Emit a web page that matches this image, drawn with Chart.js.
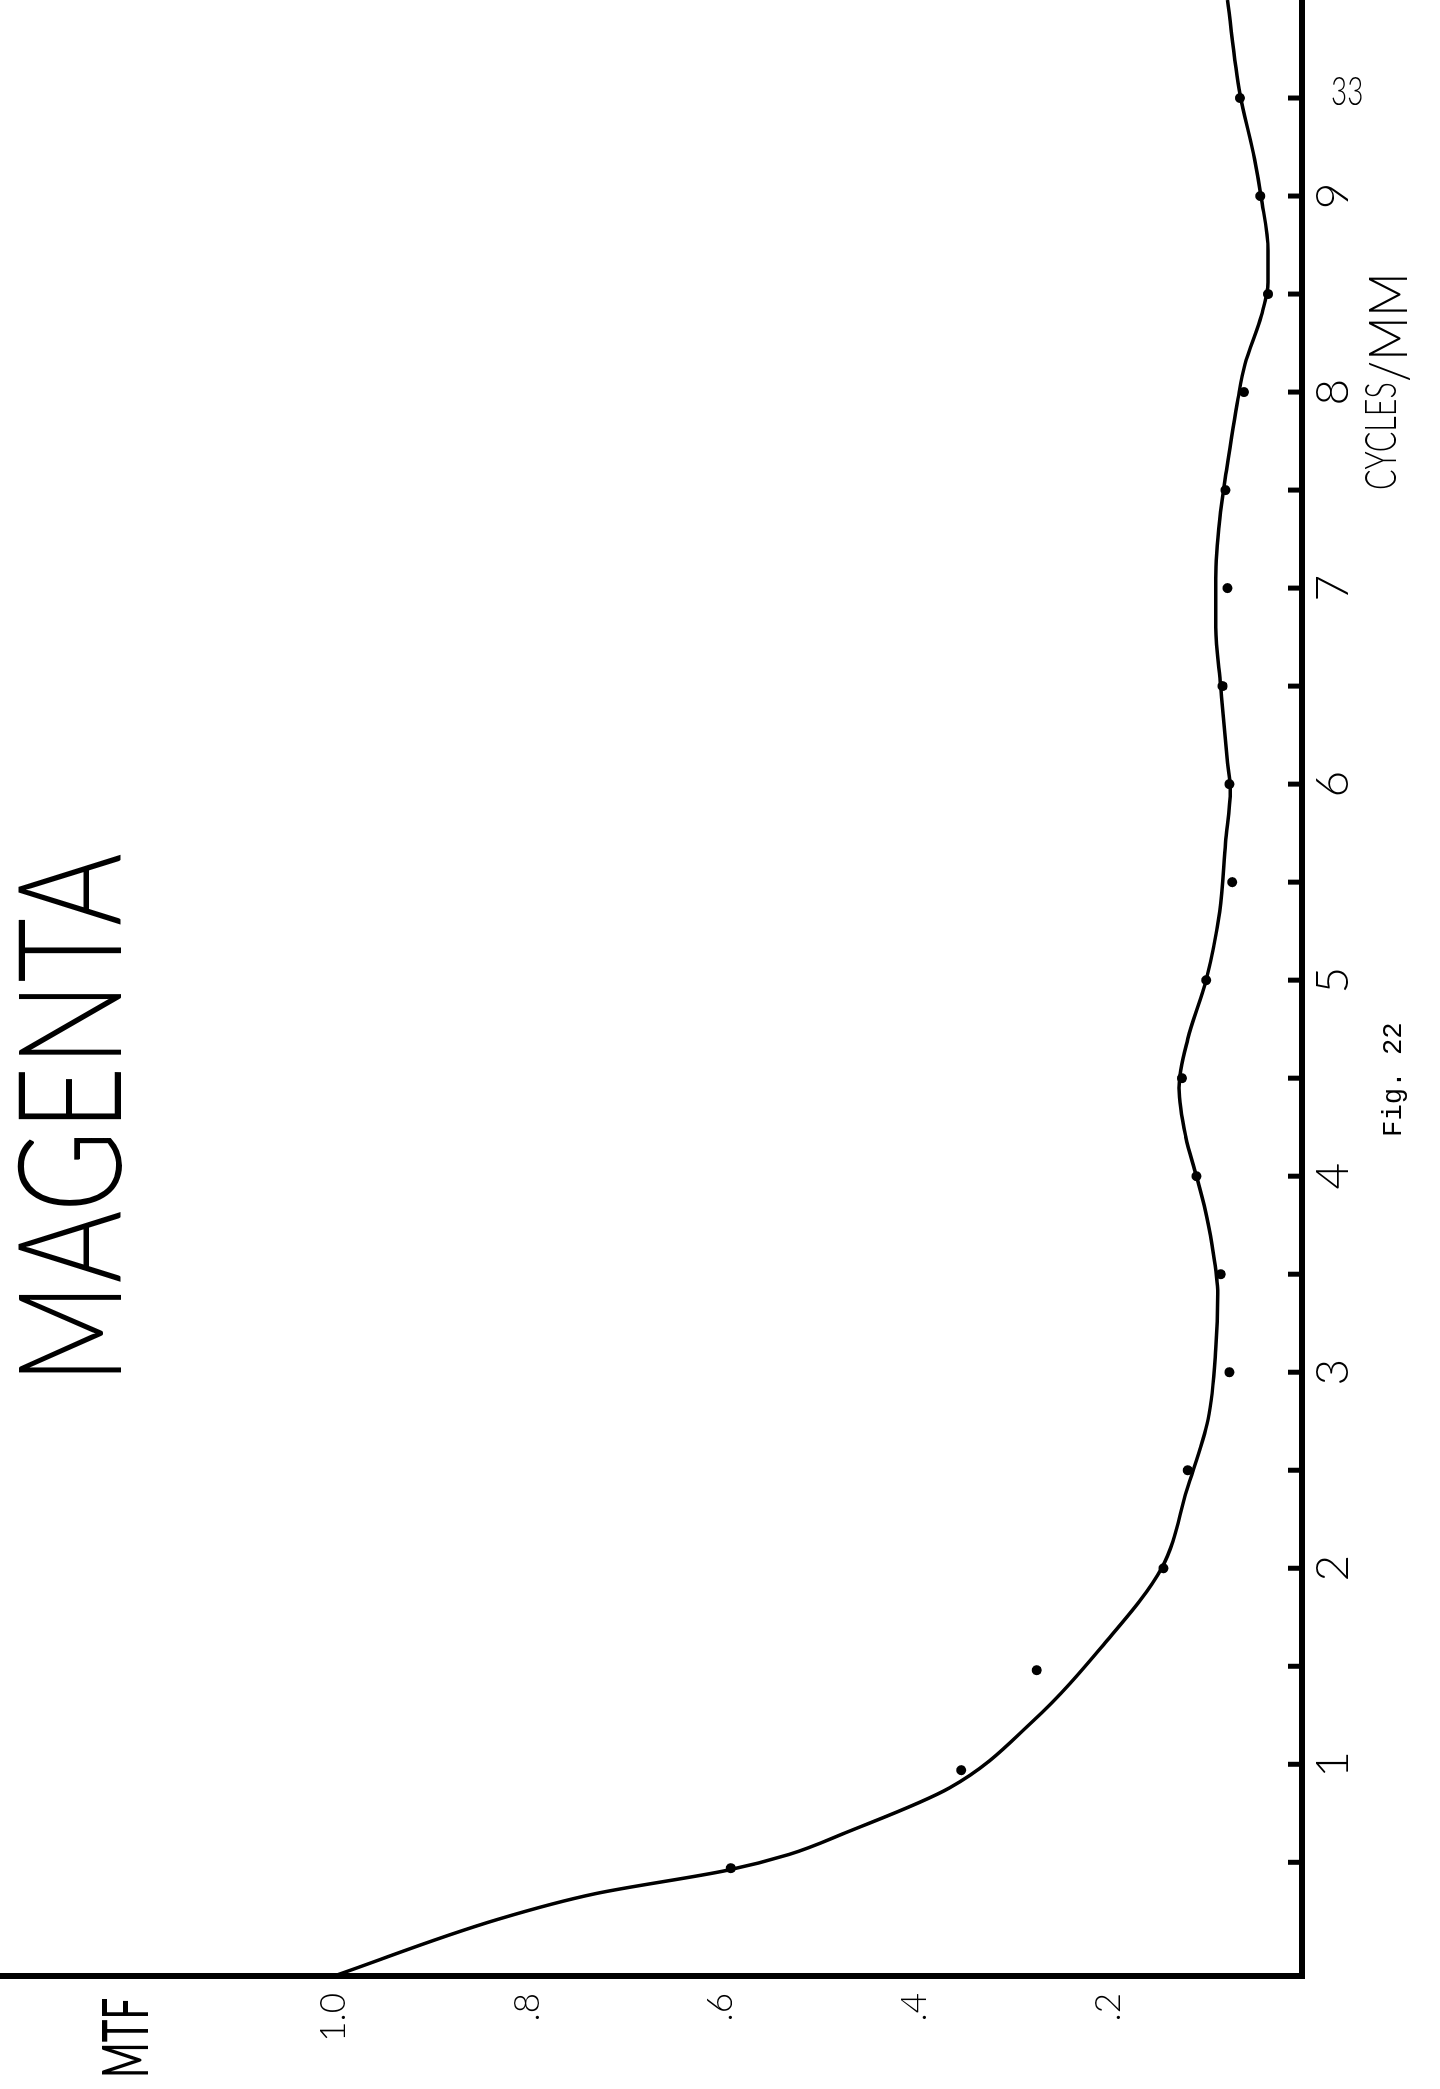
<!DOCTYPE html>
<html>
<head>
<meta charset="utf-8">
<title>MAGENTA MTF</title>
<script src="https://cdn.jsdelivr.net/npm/chart.js@4.4.1/dist/chart.umd.min.js"></script>
<style>
html, body { margin: 0; padding: 0; background: #fff; width: 1440px; height: 2089px; overflow: hidden; }
/* the sheet is drawn landscape and turned a quarter left, like the scan */
#page { position: absolute; left: 0; top: 0; width: 2089px; height: 1440px;
        transform-origin: 0 0; transform: translateY(2089px) rotate(-90deg); }
#page canvas { position: absolute; left: 0; top: 0; }
.lbl { position: absolute; color: #000; white-space: nowrap; line-height: 1; transform-origin: 0 0; }
.hand { font-family: Lato, "Open Sans", sans-serif; font-weight: 300; }
</style>
</head>
<body>
<div id="page">
  <canvas id="mtfChart" width="2089" height="1440"></canvas>
  <div class="lbl hand" id="title" style="left:705px; top:-7px; font-size:145px;">MAGENTA</div>
  <div class="lbl hand" id="yName" style="left:11px; top:92px; font-size:63px; font-weight:400;">MTF</div>
  <div class="lbl hand" id="xName1" style="left:1599px; top:1357px; font-size:44px;">CYCLES</div>
  <div class="lbl hand" id="xName2" style="left:1707px; top:1360px; font-size:54px;">/MM</div>
  <div class="lbl" id="fig" style="left:952px; top:1380px; font-size:28px; font-family:'Liberation Mono', 'DejaVu Sans Mono', monospace;">Fig. 22</div>
</div>
<!-- page number sits upright on the scan -->
<div class="lbl hand" id="pageNo" style="left:1331px; top:70px; font-size:40px;">33</div>
<script>
// measured points (cycles/mm, MTF)
const dotCycles = [0.47, 0.97, 1.48, 2.0, 2.5, 3.0, 3.5, 4.0, 4.5, 5.0, 5.5, 6.0, 6.5, 7.0, 7.5, 8.0, 8.5, 9.0, 9.5];
const dotMtf = [0.59, 0.352, 0.274, 0.143, 0.118, 0.075, 0.084, 0.109, 0.124, 0.099, 0.072, 0.075, 0.082, 0.077, 0.079, 0.060, 0.035, 0.043, 0.064];

// hand drawn curve through them (starts on the MTF axis line)
const curveCycles = [-0.08, 0.21, 0.34, 0.46, 0.54, 0.65, 0.88, 1.22, 1.61, 2.0, 2.4, 2.76, 3.12, 3.4, 3.65, 3.85, 4.0, 4.2, 4.45, 4.7, 5.0, 5.35, 5.7, 5.97, 6.11, 6.5, 6.8, 7.05, 7.35, 7.6, 7.97, 8.14, 8.39, 8.56, 8.72, 8.99, 9.19, 9.52, 10.0];
const curveMtf = [1.0, 0.83, 0.73, 0.593, 0.53, 0.472, 0.364, 0.278, 0.205, 0.145, 0.119, 0.097, 0.089, 0.087, 0.093, 0.101, 0.109, 0.12, 0.127, 0.118, 0.099, 0.085, 0.079, 0.074, 0.077, 0.084, 0.089, 0.089, 0.085, 0.078, 0.066, 0.059, 0.042, 0.035, 0.035, 0.042, 0.049, 0.064, 0.077];

// axis labels
const xTickValues = [1, 2, 3, 4, 5, 6, 7, 8, 9];
const xTickLabels = ['1', '2', '3', '4', '5', '6', '7', '8', '9'];
const yTickValues = [0.2, 0.4, 0.6, 0.8, 1.0];
const yTickLabels = ['.2', '.4', '.6', '.8', '1.0'];

const xMin = -0.08, xMax = 10;
const yMin = 0, yMax = 1.345;

function labelFor(v, vals, labels) {
  for (let i = 0; i < vals.length; i++) {
    if (Math.abs(vals[i] - v) < 1e-6) return labels[i];
  }
  return null;
}

function toPoints(xs, ys) {
  var pts = [];
  for (let i = 0; i < xs.length; i++) pts.push({x: xs[i], y: ys[i]});
  return pts;
}

// short tick marks on the inner side of the cycles axis, every half unit
const innerTicks = {
  id: 'innerTicks',
  afterDraw(chart) {
    const sx = chart.scales.x, ctx = chart.ctx;
    ctx.save();
    ctx.strokeStyle = '#000';
    ctx.lineWidth = 5;
    for (let v = 0.5; v < xMax; v += 0.5) {
      const px = sx.getPixelForValue(v);
      ctx.beginPath();
      ctx.moveTo(px, sx.top - 14);
      ctx.lineTo(px, sx.top + 3);
      ctx.stroke();
    }
    ctx.restore();
  }
};

new Chart(document.getElementById('mtfChart'), {
  type: 'scatter',
  data: {
    datasets: [{
      label: 'curve',
      data: toPoints(curveCycles, curveMtf),
      showLine: true,
      borderColor: '#000',
      borderWidth: 3.5,
      pointRadius: 0,
      cubicInterpolationMode: 'monotone',
      fill: false
    }, {
      label: 'measured',
      data: toPoints(dotCycles, dotMtf),
      showLine: false,
      backgroundColor: '#000',
      borderColor: '#000',
      pointRadius: 5,
      pointBorderWidth: 0
    }]
  },
  plugins: [innerTicks],
  options: {
    responsive: false,
    animation: false,
    devicePixelRatio: 1,
    layout: { padding: 0, autoPadding: false },
    plugins: { legend: { display: false }, title: { display: false }, tooltip: { enabled: false } },
    scales: {
      x: {
        type: 'linear',
        min: xMin, max: xMax,
        grid: { display: false, drawTicks: false },
        border: { display: true, color: '#000', width: 6 },
        ticks: {
          stepSize: 1,
          includeBounds: false,
          autoSkip: false,
          maxRotation: 0,
          padding: 4,
          color: '#000',
          font: { family: 'Lato', size: 46, weight: '300' },
          callback: function(v) { return labelFor(v, xTickValues, xTickLabels); }
        },
        afterFit: function(scale) {
          scale.height = 138;
          scale.paddingLeft = 0;
          scale.paddingRight = 0;
        }
      },
      y: {
        type: 'linear',
        min: yMin, max: yMax,
        grid: { display: false, drawTicks: false },
        border: { display: true, color: '#000', width: 6 },
        ticks: {
          stepSize: 0.2,
          includeBounds: false,
          padding: 17,
          color: '#000',
          font: { family: 'Lato', size: 35, weight: '300' },
          callback: function(v) { return labelFor(v, yTickValues, yTickLabels); }
        },
        afterFit: function(scale) {
          scale.width = 113;
          scale.paddingTop = 0;
          scale.paddingBottom = 0;
        }
      }
    }
  }
});

// squeeze the hand lettering to the widths seen on the sheet
function fitWidth(id, w) {
  const el = document.getElementById(id);
  el.style.transform = 'scaleX(' + (w / el.offsetWidth) + ')';
}
fitWidth('title', 531);
fitWidth('yName', 80);
fitWidth('xName1', 108);
fitWidth('xName2', 110);
fitWidth('pageNo', 32);
fitWidth('fig', 115);
</script>
</body>
</html>
